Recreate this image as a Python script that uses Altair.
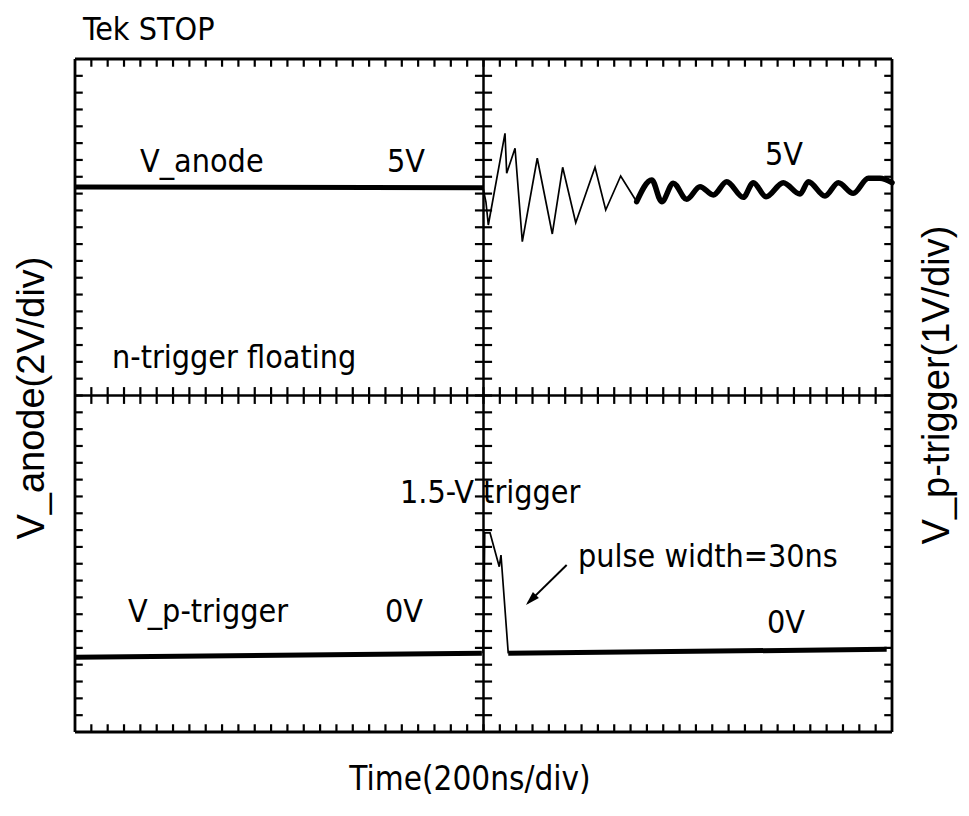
import altair as alt
import pandas as pd

# Screen is 10 x 8 divisions (x: 200 ns/div)
X_DIVS = 10
Y_DIVS = 8

# ---- traces (in screen divisions) ----
anode_flat_x = [0.0, 4.994]
anode_flat_y = [6.478, 6.470]

ring_x = [4.994, 5.030, 5.059, 5.263, 5.284, 5.386, 5.475, 5.658, 5.842, 5.969,
          6.129, 6.365, 6.496, 6.679, 6.875]
ring_y = [6.470, 6.300, 6.027, 7.117, 6.641, 6.939, 5.828, 6.820, 5.920, 6.713,
          6.054, 6.713, 6.205, 6.609, 6.304]

wave_x = [6.875, 7.059, 7.181, 7.323, 7.487, 7.650, 7.813, 7.977, 8.180, 8.302,
          8.458, 8.669, 8.874, 8.976, 9.180, 9.343, 9.526, 9.710, 9.853, 10.0]
wave_y = [6.304, 6.562, 6.304, 6.523, 6.333, 6.482, 6.383, 6.541, 6.356, 6.530,
          6.363, 6.530, 6.395, 6.541, 6.371, 6.530, 6.403, 6.582, 6.582, 6.530]

trig_left_x = [0.0, 4.98]
trig_left_y = [0.888, 0.935]

pulse_x = [4.994, 5.006, 5.015, 5.080, 5.193, 5.214, 5.303]
pulse_y = [0.935, 1.569, 2.366, 2.366, 1.965, 2.104, 0.935]

trig_right_x = [5.303, 9.935]
trig_right_y = [0.935, 0.983]

# ---- annotation texts ----
label_text = ["Tek STOP", "V_anode", "5V", "5V", "n-trigger floating",
              "V_p-trigger", "0V", "0V", "1.5-V trigger", "pulse width=30ns"]
label_x = [0.098, 0.796, 3.819, 8.446, 0.453, 0.649, 3.794, 8.470, 3.978, 6.157]
label_y = [8.226, 6.657, 6.657, 6.742, 4.327, 1.308, 1.308, 1.177, 2.722, 1.961]

x_title = "Time(200ns/div)"
y_left_title = "V_anode(2V/div)"
y_right_title = "V_p-trigger(1V/div)"

arrow_x = [6.018, 5.545]
arrow_y = [1.985, 1.535]
arrow_tip = (5.520, 1.510)


def seg_df(xs, ys, name):
    return pd.DataFrame({"x": xs, "y": ys, "seg": name, "o": range(len(xs))})


xs = alt.Scale(domain=[0, X_DIVS], nice=False, zero=False)
ys = alt.Scale(domain=[0, Y_DIVS], nice=False, zero=False)
X = alt.X("x:Q", scale=xs, axis=None)
Y = alt.Y("y:Q", scale=ys, axis=None)

# ---- graticule: frame, centre lines, minor ticks ----
tx = [round(0.2 * i, 2) for i in range(1, 50)]
ty = [round(0.2 * i, 2) for i in range(1, 40)]
tl_x = 0.095
tl_y = 0.092
cl_x = 0.105
cl_y = 0.100

# vertical rules: x, y, y2
vrules = [(0.0, 0.0, 8.0, "frame"), (10.0, 0.0, 8.0, "frame"), (5.0, 0.0, 8.0, "centre")]
# horizontal rules: y, x, x2
hrules = [(0.0, 0.0, 10.0, "frame"), (8.0, 0.0, 10.0, "frame"), (4.0, 0.0, 10.0, "centre")]
for v in tx:
    vrules.append((v, 8.0, 8 - tl_y, "tick"))
    vrules.append((v, 0.0, tl_y, "tick"))
    vrules.append((v, 4 - cl_y, 4 + cl_y, "tick"))
for v in ty:
    hrules.append((v, 0.0, tl_x, "tick"))
    hrules.append((v, 10.0, 10 - tl_x, "tick"))
    hrules.append((v, 5 - cl_x, 5 + cl_x, "tick"))
vr = pd.DataFrame(vrules, columns=["x", "y", "y2", "kind"])
hr = pd.DataFrame(hrules, columns=["y", "x", "x2", "kind"])

W = alt.StrokeWidth("kind:N", scale=alt.Scale(domain=["frame", "centre", "tick"],
                                              range=[2.8, 2.2, 2.1]), legend=None)
vr_l = alt.Chart(vr).mark_rule(color="black").encode(x=X, y=Y, y2="y2:Q", strokeWidth=W)
hr_l = alt.Chart(hr).mark_rule(color="black").encode(x=X, x2="x2:Q", y=Y, strokeWidth=W)

# ---- traces ----
thick = pd.concat([seg_df(anode_flat_x, anode_flat_y, "anode"),
                   seg_df(trig_left_x, trig_left_y, "tl"),
                   seg_df(trig_right_x, trig_right_y, "tr")])
thin = pd.concat([seg_df(ring_x, ring_y, "ring"),
                  seg_df(pulse_x, pulse_y, "pulse")])
wave = seg_df(wave_x, wave_y, "wave")

thick_l = alt.Chart(thick).mark_line(color="black", strokeWidth=5).encode(
    x=X, y=Y, detail="seg:N", order="o:Q")
thin_l = alt.Chart(thin).mark_line(color="black", strokeWidth=1.7,
                                   strokeJoin="miter").encode(
    x=X, y=Y, detail="seg:N", order="o:Q")
wave_l = alt.Chart(wave).mark_line(color="black", strokeWidth=5.5,
                                   interpolate="monotone", strokeCap="round").encode(
    x=X, y=Y, order="o:Q")

arrow_l = alt.Chart(seg_df(arrow_x, arrow_y, "arrow")).mark_line(
    color="black", strokeWidth=2).encode(x=X, y=Y, order="o:Q")
head_l = alt.Chart(pd.DataFrame({"x": [arrow_tip[0]], "y": [arrow_tip[1]]})).mark_point(
    shape="M0,0 L0.6,2 L-0.6,2 Z", size=196, angle=225, filled=True,
    color="black", opacity=1).encode(x=X, y=Y)

# ---- texts ----
NARROW = "DejaVu Sans Condensed, Liberation Sans Narrow, sans-serif"
REG = "Liberation Sans, Arial, sans-serif"

labels = pd.DataFrame({"t": label_text, "x": label_x, "y": label_y})
labels_l = alt.Chart(labels).mark_text(
    font=NARROW, fontSize=32, align="left", baseline="alphabetic",
    color="black").encode(x=X, y=Y, text="t:N")

xt = pd.DataFrame({"t": [x_title], "x": [4.835], "y": [-0.690]})
xt_l = alt.Chart(xt).mark_text(
    font=NARROW, fontSize=33, align="center", baseline="alphabetic",
    color="black").encode(x=X, y=Y, text="t:N")

yt = pd.DataFrame({"t": [y_left_title, y_right_title],
                   "x": [-0.379, 10.697], "y": [3.970, 4.125]})
yt_l = alt.Chart(yt).mark_text(
    font=REG, fontSize=38, align="center", baseline="alphabetic", angle=270,
    color="black").encode(x=X, y=Y, text="t:N")

chart = alt.layer(
    vr_l, hr_l, thick_l, wave_l, thin_l, arrow_l,
    head_l, labels_l, xt_l, yt_l
).properties(
    width=817, height=673,
    autosize=alt.AutoSizeParams(type="none"),
    padding={"left": 67, "top": 51, "right": 69, "bottom": 70},
    background="white",
).resolve_scale(strokeWidth="independent").configure_view(stroke=None)

chart.save("out.html", embed_options={"renderer": "svg", "actions": False})
